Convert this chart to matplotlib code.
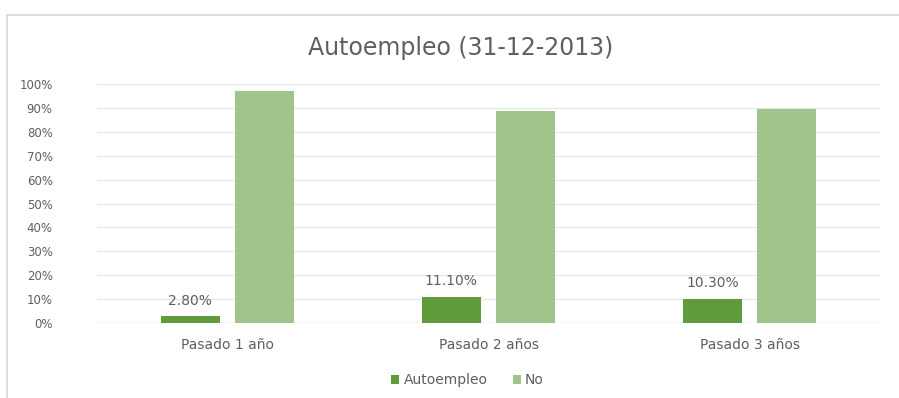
import numpy as np
import matplotlib.pyplot as plt
from matplotlib.patches import Rectangle

# data
categories = ["Pasado 1 año", "Pasado 2 años", "Pasado 3 años"]
autoempleo = [2.8, 11.1, 10.3]
no = [97.2, 88.9, 89.7]
yticks = [0, 10, 20, 30, 40, 50, 60, 70, 80, 90, 100]

dark = "#5f9a3b"
light = "#9fc58a"
grey = "#5f5f5f"

plt.rcParams['font.family'] = ['DejaVu Sans']

fig = plt.figure(figsize=(8.99, 3.98), dpi=100)
ax = fig.add_axes([0.108, 0.188, 0.871, 0.601])

# chart frame
fig.patches.append(Rectangle((0.008, -0.05), 1.1, 1.012, transform=fig.transFigure,
                             fill=False, edgecolor="#d6d6d6", linewidth=1.2))

x = np.arange(len(categories))
w = 0.226
b1 = ax.bar(x - 0.143, autoempleo, w, color=dark, label="Autoempleo", zorder=3)
b2 = ax.bar(x + 0.143, no, w, color=light, label="No", zorder=3)

for rect, v in zip(b1, autoempleo):
    ax.annotate(f"{v:.2f}%", (rect.get_x() + rect.get_width() / 2, v),
                xytext=(0, 6), textcoords="offset points", ha="center", va="bottom",
                fontsize=10, color=grey)

ax.set_xlim(-0.5, 2.5)
ax.set_ylim(0, 100)
ax.set_yticks(yticks)
ax.set_yticklabels([f"{t}%" for t in yticks])
ax.set_xticks(x)
ax.set_xticklabels(categories)
ax.tick_params(axis="both", length=0, colors=grey)
ax.tick_params(axis="x", pad=11, labelsize=10)
ax.tick_params(axis="y", pad=32, labelsize=8.5)
for lab in ax.get_yticklabels():
    lab.set_horizontalalignment("right")
ax.grid(axis="y", color="#e6e6e6", linewidth=0.9, zorder=0)
for s in ax.spines.values():
    s.set_visible(False)
ax.axhline(0, color="#d9d9d9", linewidth=0.9, zorder=1)

fig.suptitle("Autoempleo (31-12-2013)", x=0.512, y=0.91, fontsize=17, color=grey)

fig.legend(loc="center", bbox_to_anchor=(0.52, 0.045), ncol=2, frameon=False,
           fontsize=10, handlelength=0.6, handleheight=0.6, handletextpad=0.3,
           columnspacing=1.8, labelcolor=grey)

fig.savefig("out.png", dpi=100)
